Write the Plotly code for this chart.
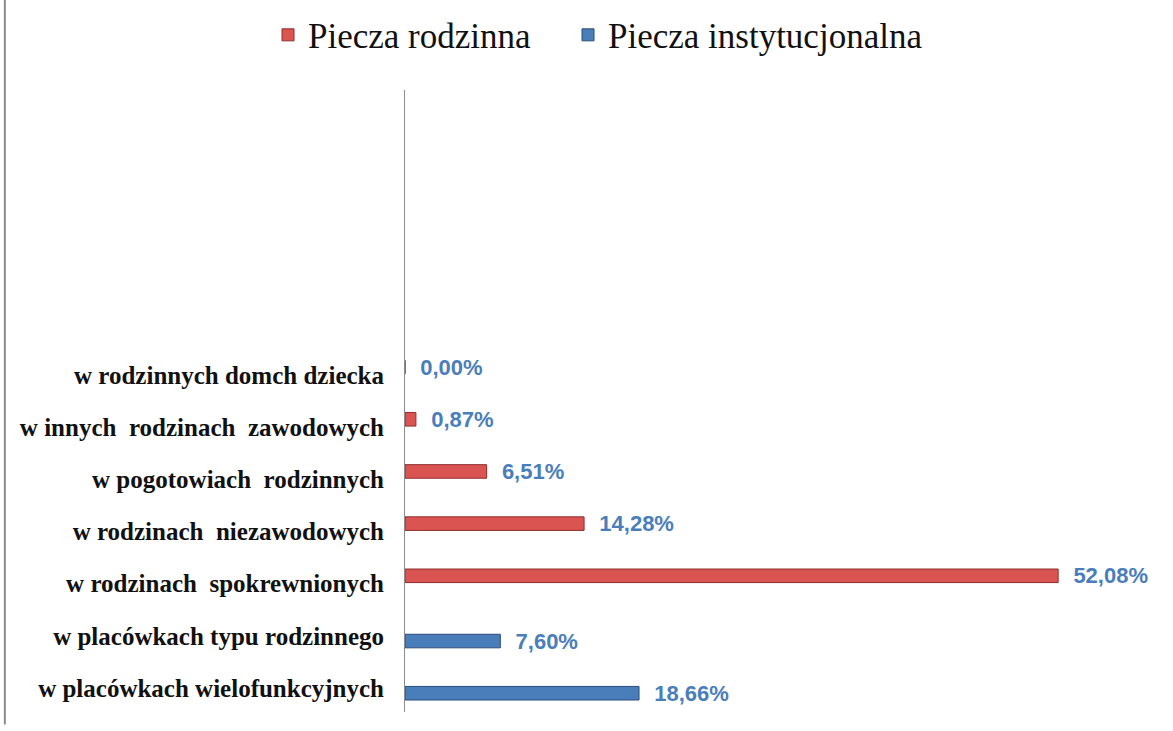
import plotly.graph_objects as go

# ---- data ----
categories = [
    "w placówkach wielofunkcyjnych",
    "w placówkach typu rodzinnego",
    "w rodzinach  spokrewnionych",
    "w rodzinach  niezawodowych",
    "w pogotowiach  rodzinnych",
    "w innych  rodzinach  zawodowych",
    "w rodzinnych domch dziecka",
]
cat_pos = [0, 1, 2, 3, 4, 5, 6]

family_pos = [2, 3, 4, 5, 6]
family_values = [52.08, 14.28, 6.51, 0.87, 0.00]

inst_pos = [0, 1]
inst_values = [18.66, 7.60]

series_names = ["Piecza rodzinna", "Piecza instytucjonalna"]


def fmt(v):
    return "\u00a0\u00a0" + f"{v:.2f}%".replace(".", ",")


label_font = dict(family="Liberation Sans", size=22, color="#4A7EBB", weight="bold")
serif = "Liberation Serif, Times New Roman, serif"

fig = go.Figure()
fig.add_trace(go.Bar(
    name=series_names[0], orientation="h",
    y=family_pos, x=family_values,
    offset=0.02, width=0.26,
    marker=dict(color="#DA5452", line=dict(color="#8E2F2D", width=1)),
    text=[fmt(v) for v in family_values], textposition="outside",
    textfont=label_font, cliponaxis=False, constraintext="none",
    legend="legend",
))
fig.add_trace(go.Bar(
    name=series_names[1], orientation="h",
    y=inst_pos, x=inst_values,
    offset=-0.23, width=0.26,
    marker=dict(color="#4A7EBB", line=dict(color="#2A4C78", width=1)),
    text=[fmt(v) for v in inst_values], textposition="outside",
    textfont=label_font, cliponaxis=False, constraintext="none",
    legend="legend2",
))

legend_common = dict(
    orientation="h", xref="container", yref="container",
    xanchor="left", y=0.952, yanchor="middle",
    font=dict(family=serif, size=35, color="#111111"),
    bgcolor="rgba(0,0,0,0)",
)

fig.update_layout(
    width=1173, height=731,
    paper_bgcolor="white", plot_bgcolor="white",
    margin=dict(l=405, r=13, t=90, b=19, autoexpand=False),
    barmode="overlay",
    showlegend=True,
    legend=dict(x=(282 - 14) / 1173, **legend_common),
    legend2=dict(x=(582 - 14) / 1173, **legend_common),
    xaxis=dict(range=[0, 60.2], visible=False, showgrid=False, zeroline=False,
               automargin=False),
    yaxis=dict(
        range=[-0.46, 11.46], automargin=False,
        tickmode="array", tickvals=cat_pos, ticktext=categories,
        showline=True, linecolor="#8C8C8C", linewidth=1,
        showgrid=False, zeroline=False, ticks="",
        ticklabelstandoff=15,
        tickfont=dict(family=serif, size=25, color="#111111", weight="bold"),
    ),
    shapes=[dict(
        type="line", xref="paper", yref="paper",
        x0=-0.53, x1=-0.53, y0=1.15, y1=-0.02,
        line=dict(color="#8C8C8C", width=2),
    )],
)

fig.write_html("out.html", config={"displayModeBar": False},
               post_script="document.body.style.margin='0';")
